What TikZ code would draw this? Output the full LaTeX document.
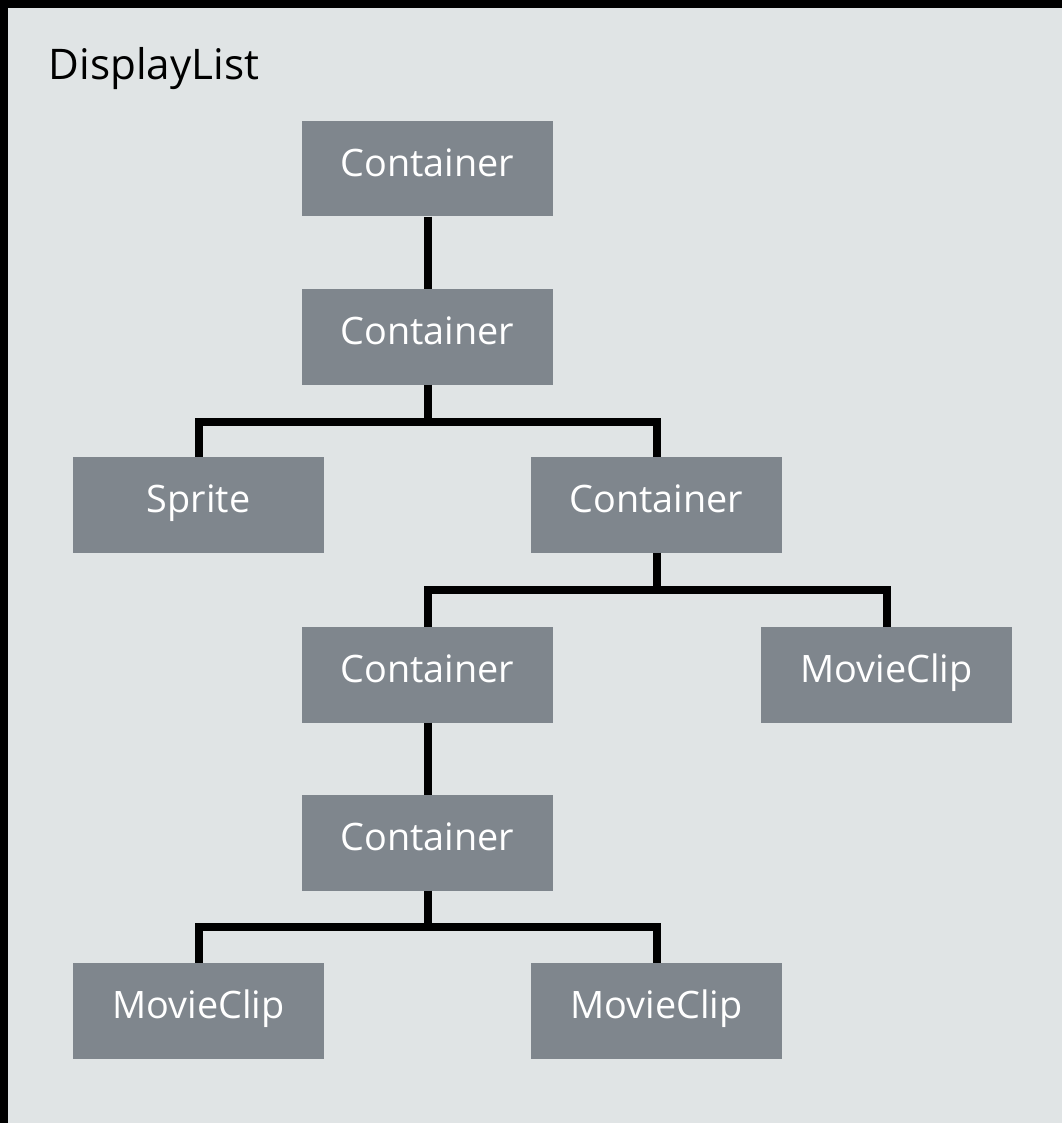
\documentclass[tikz,border=0pt]{standalone}
\usepackage{fontspec}
\setmainfont{Open Sans}
\definecolor{pagebg}{HTML}{E0E4E5}
\definecolor{boxgray}{HTML}{7F868D}
\definecolor{inkblack}{HTML}{000000}
\begin{document}
\begin{tikzpicture}[x=1pt,y=-1pt,
  objbox/.style={rectangle, fill=boxgray, draw=none, inner sep=0pt,
    minimum width=251pt, minimum height=95.5pt, text=white,
    font=\fontsize{37.8}{40}\selectfont, text height=27pt, text depth=11.5pt},
  link/.style={draw=inkblack, line width=8pt, line join=miter, line cap=butt}]
  % page: light background with a black band on the top and left edges
  \fill[inkblack] (0,0) rectangle (1062,1123);
  \fill[pagebg] (8,8) rectangle (1062,1123);
  \useasboundingbox (0,0) rectangle (1062,1123);

  \node[anchor=base west, inner sep=0pt, font=\fontsize{42.2}{44}\selectfont] (title) at (48.5,80) {DisplayList};

  % display objects
  \node[objbox] (c1) at (427.5,168.75) {Container};
  \node[objbox] (c2) at (427.5,336.75) {Container};
  \node[objbox] (sprite) at (198.5,504.75) {Sprite};
  \node[objbox] (c3) at (656.5,504.75) {Container};
  \node[objbox] (c4) at (427.5,674.75) {Container};
  \node[objbox] (mc1) at (886.5,674.75) {MovieClip};
  \node[objbox] (c5) at (427.5,842.75) {Container};
  \node[objbox] (mc2) at (198.5,1010.75) {MovieClip};
  \node[objbox] (mc3) at (656.5,1010.75) {MovieClip};

  % heights of the horizontal branch bars
  \coordinate (bar1) at (0,422);
  \coordinate (bar2) at (0,590);
  \coordinate (bar3) at (0,927);

  \draw[link] (c1.south) -- (c2.north);
  \draw[link] (c2.south) -- (c2.south |- bar1);
  \draw[link] (sprite.north) -- (sprite.north |- bar1) -- (c3.north |- bar1) -- (c3.north);
  \draw[link] (c3.south) -- (c3.south |- bar2);
  \draw[link] (c4.north) -- (c4.north |- bar2) -- (mc1.north |- bar2) -- (mc1.north);
  \draw[link] (c4.south) -- (c5.north);
  \draw[link] (c5.south) -- (c5.south |- bar3);
  \draw[link] (mc2.north) -- (mc2.north |- bar3) -- (mc3.north |- bar3) -- (mc3.north);
\end{tikzpicture}
\end{document}
